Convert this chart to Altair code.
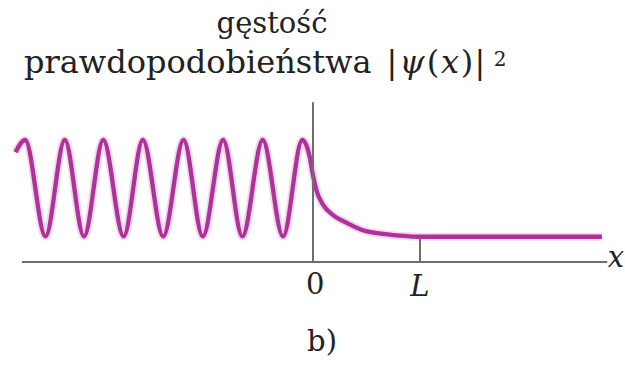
import altair as alt
import pandas as pd

# probability density |psi(x)|^2 : oscillating region (x < 0), decay inside barrier, flat beyond L
curve_x = [-278, -269, -250, -232, -214, -196, -177, -159, -140, -121, -103, -84, -66, -47, -28, -10,
           -2.8, 0, 3.5, 9.3, 18.7, 31.8, 46.7, 65.4, 87.9, 100, 270]
curve_y = [0.90, 1.00, 0.21, 1.00, 0.21, 1.00, 0.21, 1.00, 0.21, 1.00, 0.21, 1.00, 0.21, 1.00, 0.21, 1.00,
           0.85, 0.71, 0.58, 0.47, 0.385, 0.32, 0.26, 0.23, 0.212, 0.207, 0.207]

# axis extents
x_axis_from, x_axis_to = -272, 275
y_axis_top = 1.31
L_pos = 100
L_level = 0.207

tick_labels = ["0", "L", "x"]
tick_label_x = [2, 100, 283]
tick_label_y = [-0.19, -0.205, 0.03]
tick_label_style = ["normal", "italic", "italic"]

title_line1 = "gęstość"
# second title line, set piece by piece so that psi and x can be italic
line2_text = ["prawdopodobieństwa", "|", "ψ", "(", "x", ")", "|"]
line2_style = ["normal", "normal", "italic", "normal", "italic", "normal", "normal"]
line2_x = [24, 392, 412, 433, 450, 467, 480]
line2_align = ["left", "center", "center", "center", "center", "center", "center"]
title_sup = "2"
panel_label = "b)"

FONT = "DejaVu Serif"
FS = 29
FS2 = 32
INK = "#222222"
CURVE = "#ad3399"
AXIS = "#6e6e6e"

xs = alt.Scale(domain=[-292.52, 291.59], nice=False, zero=False)
ys = alt.Scale(domain=[-0.8443, 2.1475], nice=False, zero=False)

curve_df = pd.DataFrame({"x": curve_x, "y": curve_y})
X = alt.X("x:Q", scale=xs, axis=None)
Y = alt.Y("y:Q", scale=ys, axis=None)

halo = alt.Chart(curve_df).mark_line(
    interpolate="monotone", color="#e07fcf", strokeWidth=8, opacity=0.3
).encode(x=X, y=Y)
line = alt.Chart(curve_df).mark_line(
    interpolate="monotone", color=CURVE, strokeWidth=4.3
).encode(x=X, y=Y)

axes_df = pd.DataFrame({
    "x": [x_axis_from, 0, L_pos],
    "x2": [x_axis_to, 0, L_pos],
    "y": [0, 0, 0],
    "y2": [0, y_axis_top, L_level],
})
axes = alt.Chart(axes_df).mark_rule(color=AXIS, strokeWidth=2).encode(
    x=alt.X("x:Q", scale=xs, axis=None), x2="x2:Q",
    y=alt.Y("y:Q", scale=ys, axis=None), y2="y2:Q",
)


def text_layer(df, style, align, baseline, size=FS, **enc):
    return alt.Chart(df).mark_text(
        font=FONT, fontSize=size, fontStyle=style, color=INK, align=align, baseline=baseline
    ).encode(text="t:N", **enc)


labels_df = pd.DataFrame({"t": tick_labels, "x": tick_label_x, "y": tick_label_y, "s": tick_label_style})
label_layers = [
    text_layer(labels_df[labels_df.s == st], st, "center", "middle",
               x=alt.X("x:Q", scale=xs, axis=None), y=alt.Y("y:Q", scale=ys, axis=None))
    for st in ["normal", "italic"]
]

panel = text_layer(pd.DataFrame({"t": [panel_label]}), "normal", "center", "middle",
                   x=alt.value(322), y=alt.value(342))
t1 = text_layer(pd.DataFrame({"t": [title_line1]}), "normal", "center", "alphabetic",
                x=alt.value(272), y=alt.value(33))

l2 = pd.DataFrame({"t": line2_text, "s": line2_style, "px": line2_x, "a": line2_align})
line2_layers = []
for al in ["left", "center"]:
    for st in ["normal", "italic"]:
        sub = l2[(l2.a == al) & (l2.s == st)]
        if len(sub):
            line2_layers.append(text_layer(sub, st, al, "alphabetic", size=FS2,
                                           x=alt.X("px:Q", scale=None), y=alt.value(73)))
t3 = text_layer(pd.DataFrame({"t": [title_sup]}), "normal", "center", "alphabetic", size=20,
                x=alt.value(500), y=alt.value(66))

chart = alt.layer(halo, line, axes, *label_layers, panel, t1, *line2_layers, t3).properties(
    width=625, height=365, padding=0, autosize=alt.AutoSizeParams(type="none"),
    background="white",
).configure_view(stroke=None)

chart.save("out.html", embed_options={"renderer": "svg", "actions": False})
